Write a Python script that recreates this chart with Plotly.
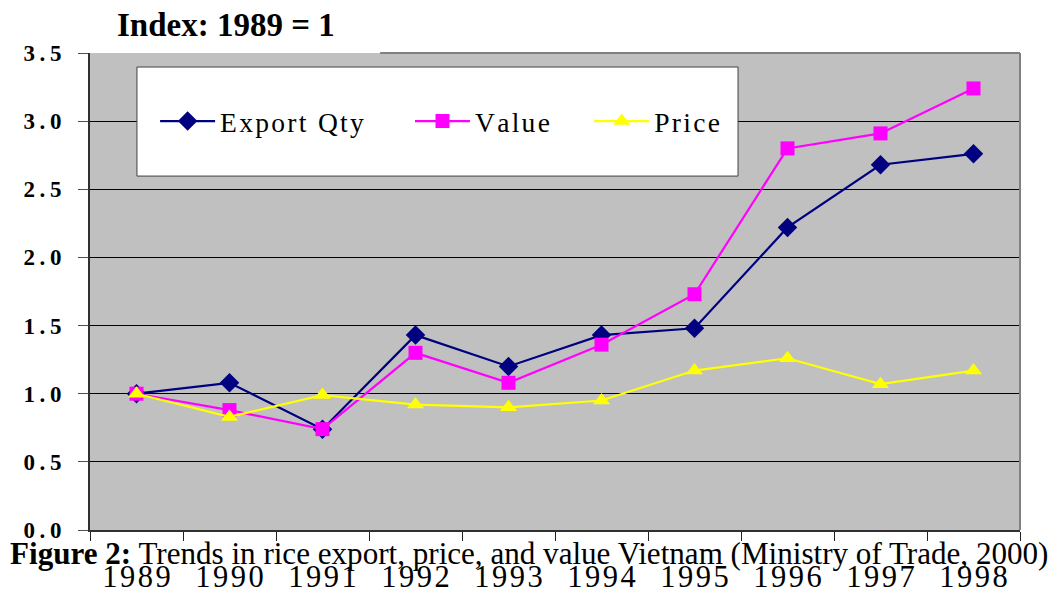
import plotly.graph_objects as go

years = ["1989", "1990", "1991", "1992", "1993", "1994", "1995", "1996", "1997", "1998"]
export_qty = [1.00, 1.08, 0.74, 1.43, 1.20, 1.43, 1.48, 2.22, 2.68, 2.76]
value = [1.00, 0.88, 0.74, 1.30, 1.08, 1.36, 1.73, 2.80, 2.91, 3.24]
price = [1.00, 0.83, 0.99, 0.92, 0.90, 0.95, 1.17, 1.26, 1.07, 1.17]
series_names = ["Export Qty", "Value", "Price"]
y_ticks = [0.0, 0.5, 1.0, 1.5, 2.0, 2.5, 3.0, 3.5]

HS = "\u200a"
TS = "\u2009"
def spaced(s, sep=HS):
    return sep.join(list(s))

FONT = "Liberation Serif, Times New Roman, serif"
NB = "\u00a0"

fig = go.Figure()
fig.add_trace(go.Scatter(
    x=years, y=export_qty, name=spaced(series_names[0]) + NB * 6, mode="lines+markers",
    line=dict(color="#000080", width=2.2),
    marker=dict(symbol="diamond", size=15, color="#000080")))
fig.add_trace(go.Scatter(
    x=years, y=value, name=spaced(series_names[1]) + NB * 5, mode="lines+markers",
    line=dict(color="#FF00FF", width=2.2),
    marker=dict(symbol="square", size=14, color="#FF00FF")))
fig.add_trace(go.Scatter(
    x=years, y=price, name=spaced(series_names[2]), mode="lines+markers",
    line=dict(color="#FFFF00", width=2.2),
    marker=dict(symbol="triangle-up", size=15, color="#FFFF00")))

# page body has an 8px margin: figure is 1050x585 placed at (8, 8)
fig.update_layout(
    width=1050, height=585,
    margin=dict(l=82, r=38, t=45, b=63),
    paper_bgcolor="white",
    plot_bgcolor="#C0C0C0",
    font=dict(family=FONT, color="black"),
    showlegend=True,
    legend=dict(
        orientation="h", x=0.070, y=0.857, xanchor="left", yanchor="middle",
        bgcolor="rgba(0,0,0,0)", borderwidth=0,
        font=dict(family=FONT, size=27.5, color="black"),
        itemwidth=55,
    ),
)

fig.update_xaxes(
    type="category", tickson="boundaries", range=[-0.5, 9.5], automargin=False,
    tickvals=years, ticktext=[spaced(y) for y in years],
    ticks="outside", ticklen=9, tickwidth=1, tickcolor="#202020",
    showline=True, linecolor="#303030", linewidth=2,
    showgrid=False, zeroline=False,
    tickfont=dict(family=FONT, size=30.5, color="black"),
    ticklabelstandoff=18,
)
fig.update_yaxes(
    range=[0, 3.5], tickvals=y_ticks, ticktext=[spaced(f"{v:.1f}", TS) for v in y_ticks],
    automargin=False,
    ticks="outside", ticklen=10, tickwidth=1, tickcolor="#505050",
    showline=True, linecolor="#303030", linewidth=2,
    showgrid=True, gridcolor="black", gridwidth=1, zeroline=False,
    tickfont=dict(family=FONT, size=23, color="black", weight="bold"),
    ticklabelstandoff=12,
)

# legend box
fig.add_shape(type="rect", xref="paper", yref="paper",
              x0=0.0505, x1=0.6968, y0=0.742, y1=0.9706,
              fillcolor="white", line=dict(color="#404040", width=1), layer="above")
# right and top border
fig.add_shape(type="line", xref="paper", yref="paper", x0=1, x1=1, y0=0, y1=1,
              line=dict(color="#808080", width=2), layer="above")
fig.add_shape(type="line", xref="paper", yref="paper", x0=0.312, x1=1, y0=1, y1=1,
              line=dict(color="#808080", width=2), layer="above")

fig.add_annotation(text="<b>Index: 1989 = 1</b>", xref="paper", yref="paper",
                   x=(115 - 90) / 930, y=(530 - 25) / 477, xanchor="left", yanchor="middle",
                   showarrow=False, font=dict(family=FONT, size=33, color="black"))
fig.add_annotation(text="<b>Figure 2:</b> Trends in rice export, price, and value Vietnam (Ministry of Trade, 2000)",
                   xref="paper", yref="paper",
                   x=(529 - 90) / 930, y=(530 - 553) / 477, xanchor="center", yanchor="middle",
                   showarrow=False, font=dict(family=FONT, size=31.1, color="black"))

fig.write_html("out.html")
